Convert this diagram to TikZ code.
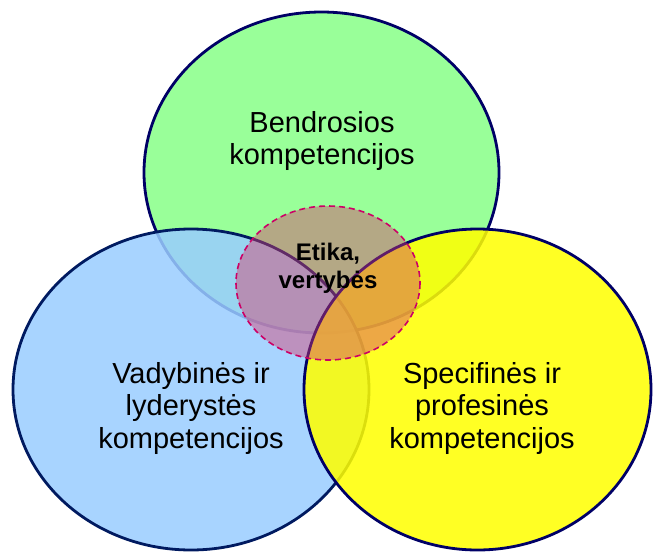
\documentclass[tikz,border=0pt]{standalone}
\usepackage{fontspec}
\setmainfont{Liberation Sans}
\begin{document}
\begin{tikzpicture}[x=1pt,y=-1pt,
  setbox/.style={line width=2.8pt, fill opacity=0.86},
  lbl/.style={align=center, font=\fontsize{29}{32.5}\selectfont, inner sep=0pt},
  ethlbl/.style={align=center, font=\bfseries\fontsize{24}{28}\selectfont, inner sep=0pt}]
\definecolor{gfill}{RGB}{136,255,136}
\definecolor{bfill}{RGB}{154,205,255}
\definecolor{yfill}{RGB}{255,255,0}
\definecolor{navy}{RGB}{0,0,102}
\definecolor{bnavy}{RGB}{0,26,96}
\definecolor{pinkfill}{RGB}{215,64,110}
\definecolor{pinkline}{RGB}{204,0,102}
\useasboundingbox (0,0) rectangle (653,552);
\draw[setbox, draw=navy, fill=gfill] (321.5,172.5) ellipse [x radius=177.5, y radius=160.5];
\draw[setbox, draw=bnavy, fill=bfill] (191,389.5) ellipse [x radius=178, y radius=160.5];
\draw[setbox, draw=navy, fill=yfill] (477.5,389.5) ellipse [x radius=173.5, y radius=160.5];
\draw[fill=pinkfill, fill opacity=0.45, draw=pinkline, line width=1.6pt, dash pattern=on 6pt off 4pt] (328,283) ellipse [x radius=92, y radius=77];
\node[lbl] (gen) at (322,141) {Bendrosios\\kompetencijos};
\node[lbl] (man) at (191,408) {Vadybinės ir\\lyderystės\\kompetencijos};
\node[lbl] (spe) at (482,408) {Specifinės ir\\profesinės\\kompetencijos};
\node[ethlbl] (eth) at (328,268) {Etika,\\vertybės};
\end{tikzpicture}
\end{document}
